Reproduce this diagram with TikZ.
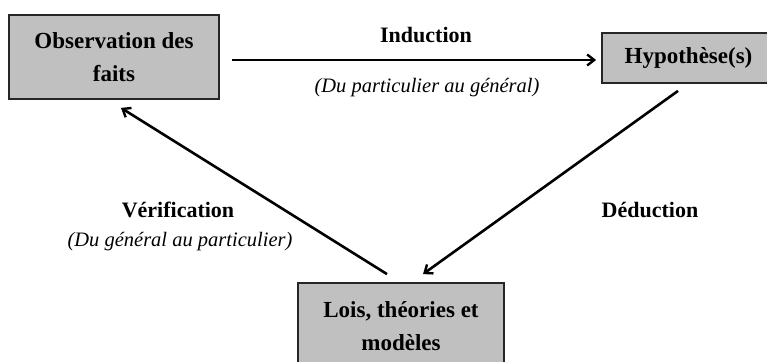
\documentclass[tikz,border=0pt]{standalone}
\usepackage{fontspec}
\setmainfont{Liberation Serif}
\usetikzlibrary{arrows.meta,calc}
\begin{document}
\begin{tikzpicture}[x=1pt,y=-1pt,
  box/.style={draw=black!85,line width=1.8pt,fill={rgb,255:red,192;green,192;blue,192},
    inner sep=0pt,align=center,font=\bfseries\fontsize{23}{33}\selectfont},
  lbl/.style={font=\bfseries\fontsize{22}{26}\selectfont,inner sep=0pt},
  sub/.style={font=\itshape\fontsize{20.5}{24}\selectfont,inner sep=0pt},
  conn/.style={line width=2.6pt,-{Straight Barb[length=7pt,width=11pt,line width=2.4pt]}}]
\useasboundingbox (0,0) rectangle (767,361);
\clip (0,0) rectangle (767,361);
\fill[white] (0,0) rectangle (767,361);
\node[box,minimum width=210pt,minimum height=84pt] (A) at (114,57) {Observation des\\faits};
\node[box,minimum width=173pt,minimum height=50pt] (B) at (688.5,58) {Hypothèse(s)};
\node[box,minimum width=206pt,minimum height=86pt] (C) at (401,326) {Lois, théories et\\modèles};
\node[lbl] (ind) at (426,35) {Induction};
\node[sub] (indsub) at (427,88) {(Du particulier au général)};
\node[lbl] (ver) at (178,210) {Vérification};
\node[sub] (versub) at (180,242) {(Du général au particulier)};
\node[lbl] (ded) at (650,210) {Déduction};
\draw[conn] ($(A.east)+(12,3)$) -- ($(B.west)+(-5,2)$);
\draw[conn] ($(B.south)+(-10.5,7)$) -- ($(C.north)+(22,-8)$);
\draw[conn] ($(C.north)+(-14,-8)$) -- ($(A.south)+(7,8)$);
\end{tikzpicture}
\end{document}
